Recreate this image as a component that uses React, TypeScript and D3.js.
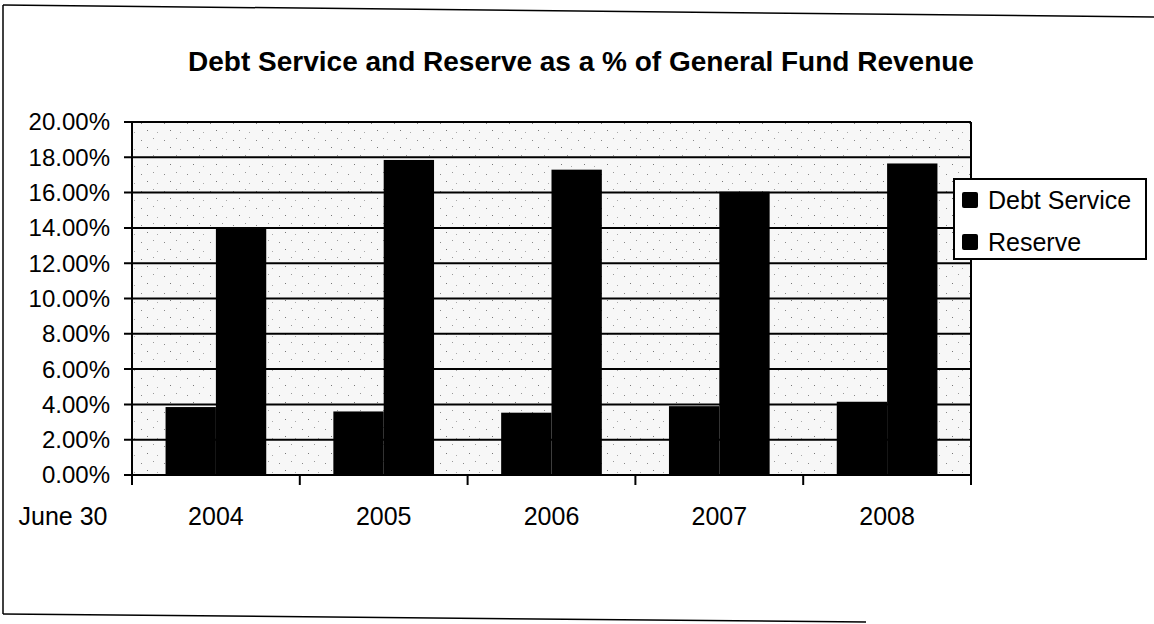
import React from "react";
import * as d3 from "d3";

const categories = ["2004", "2005", "2006", "2007", "2008"];
const seriesNames = ["Debt Service", "Reserve"];
const debtService = [0.0385, 0.036, 0.0353, 0.039, 0.0415];
const reserve = [0.14, 0.1785, 0.173, 0.1605, 0.1765];
const yTicks = [0, 0.02, 0.04, 0.06, 0.08, 0.1, 0.12, 0.14, 0.16, 0.18, 0.2];
const title = "Debt Service and Reserve as a % of General Fund Revenue";
const axisCaption = "June 30";

const W = 1154;
const H = 624;
const FONT = "'Liberation Sans', Arial, sans-serif";

export default function App() {
  const plot = { left: 132, right: 971, top: 122, bottom: 475 };
  const x = d3
    .scaleBand<string>()
    .domain(categories)
    .range([plot.left, plot.right])
    .paddingInner(0)
    .paddingOuter(0);
  const inner = d3
    .scaleBand<string>()
    .domain(seriesNames)
    .range([0, x.bandwidth() * 0.6])
    .padding(0);
  const groupOffset = (x.bandwidth() - x.bandwidth() * 0.6) / 2;
  const y = d3.scaleLinear().domain([0, 0.2]).range([plot.bottom, plot.top]);
  const fmt = d3.format(".2%");
  const values = [debtService, reserve];
  const boundaries = [...categories.map((c) => x(c) as number), plot.right];

  return (
    <svg
      width={W}
      height={H}
      style={{ position: "absolute", left: 0, top: 0, background: "#fff" }}
      fontFamily={FONT}
    >
      <defs>
        <pattern id="stipple" width="23" height="17" patternUnits="userSpaceOnUse">
          <rect width="23" height="17" fill="#f7f7f7" />
          <rect x="3" y="4" width="1" height="1" fill="#888" />
          <rect x="15" y="2" width="1" height="1" fill="#999" />
          <rect x="9" y="11" width="1" height="1" fill="#777" />
          <rect x="19" y="13" width="1" height="1" fill="#aaa" />
        </pattern>
      </defs>
      {/* outer frame */}
      <line x1={3} y1={5} x2={1154} y2={17} stroke="#000" strokeWidth={1.5} />
      <line x1={3} y1={5} x2={3} y2={614} stroke="#000" strokeWidth={1.5} />
      <line x1={3} y1={614} x2={866} y2={622} stroke="#000" strokeWidth={1.5} />

      {/* title */}
      <text
        x={581}
        y={71}
        textAnchor="middle"
        fontWeight="bold"
        fontSize={28}
        fill="#000"
      >
        {title}
      </text>

      {/* plot background */}
      <rect
        x={plot.left}
        y={plot.top}
        width={plot.right - plot.left}
        height={plot.bottom - plot.top}
        fill="url(#stipple)"
      />

      {/* gridlines + y ticks */}
      {yTicks.map((t) => (
        <g key={t}>
          <line
            x1={plot.left - 8}
            x2={plot.right}
            y1={y(t)}
            y2={y(t)}
            stroke="#000"
            strokeWidth={2}
          />
          <text
            x={110}
            y={y(t)}
            dy="0.35em"
            textAnchor="end"
            fontSize={24}
            fill="#000"
          >
            {fmt(t)}
          </text>
        </g>
      ))}

      {/* bars */}
      {categories.map((c, i) => (
        <g key={c} transform={`translate(${(x(c) as number) + groupOffset},0)`}>
          {seriesNames.map((s, j) => (
            <rect
              key={s}
              x={inner(s) as number}
              y={y(values[j][i])}
              width={inner.bandwidth()}
              height={y(0) - y(values[j][i])}
              fill="#000"
            />
          ))}
        </g>
      ))}

      {/* axes */}
      <line x1={plot.left} x2={plot.left} y1={plot.top} y2={plot.bottom} stroke="#000" strokeWidth={2} />
      <line x1={plot.right} x2={plot.right} y1={plot.top} y2={plot.bottom + 10} stroke="#000" strokeWidth={2} />
      <line x1={plot.left} x2={plot.right} y1={plot.bottom} y2={plot.bottom} stroke="#000" strokeWidth={2} />
      {boundaries.map((b, i) => (
        <line key={i} x1={b} x2={b} y1={plot.bottom} y2={plot.bottom + 10} stroke="#000" strokeWidth={2} />
      ))}

      {/* x labels */}
      <text x={63} y={525} textAnchor="middle" fontSize={25} fill="#000">
        {axisCaption}
      </text>
      {categories.map((c) => (
        <text
          key={c}
          x={(x(c) as number) + x.bandwidth() / 2}
          y={525}
          textAnchor="middle"
          fontSize={25}
          fill="#000"
        >
          {c}
        </text>
      ))}

      {/* legend */}
      <g transform="translate(954,179)">
        <rect x={0} y={0} width={192} height={80} fill="#fff" stroke="#000" strokeWidth={2} />
        {seriesNames.map((s, i) => (
          <g key={s} transform={`translate(0,${21 + i * 42})`}>
            <rect x={8} y={-8} width={16} height={16} fill="#000" rx={2} />
            <text x={34} y={0} dy="0.35em" fontSize={25} fill="#000">
              {s}
            </text>
          </g>
        ))}
      </g>
    </svg>
  );
}
